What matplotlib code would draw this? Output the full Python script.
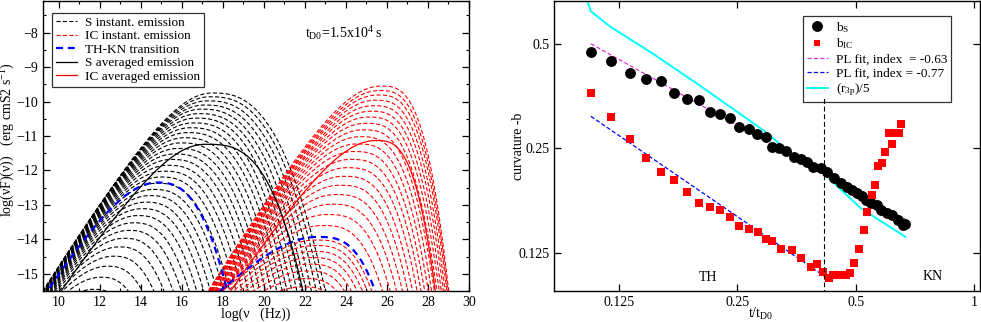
import numpy as np
import matplotlib
matplotlib.use("Agg")
import matplotlib.pyplot as plt
from matplotlib.lines import Line2D

plt.rcParams['font.family'] = ['Liberation Serif', 'DejaVu Serif']
plt.rcParams['mathtext.fontset'] = 'custom'
plt.rcParams['mathtext.rm'] = 'Liberation Serif'
plt.rcParams['mathtext.it'] = 'Liberation Serif:italic'
plt.rcParams['lines.scale_dashes'] = False

# ---- left panel: instantaneous spectra (peak log nu, peak log nuFnu, shape) ----
# synchrotron family, early -> late
s_peak_y = [-16.3, -15.85, -15.45, -15.1, -14.78, -14.49, -14.22, -13.97, -13.74, -13.52,
            -13.31, -13.11, -12.92, -12.73, -12.55, -12.37, -12.19, -12.02, -11.85, -11.68,
            -11.52, -11.36, -11.2, -11.05, -10.9, -10.76, -10.62, -10.48, -10.35, -10.22,
            -10.1, -9.98, -9.86, -9.75]
s_peak_x = [10.85, 11.3, 11.7, 12.05, 12.37, 12.66, 12.93, 13.18, 13.41, 13.63,
            13.84, 14.04, 14.23, 14.42, 14.6, 14.78, 14.96, 15.13, 15.3, 15.47,
            15.63, 15.79, 15.95, 16.1, 16.25, 16.39, 16.53, 16.67, 16.8, 16.93,
            17.08, 17.22, 17.36, 17.48]
s_right_b = [0.22, 0.21, 0.2, 0.19, 0.182, 0.174, 0.166, 0.159, 0.152, 0.146,
             0.14, 0.135, 0.13, 0.125, 0.12, 0.116, 0.112, 0.108, 0.104, 0.1,
             0.097, 0.094, 0.091, 0.088, 0.085, 0.083, 0.081, 0.079, 0.077, 0.075,
             0.073, 0.071, 0.069, 0.068]

# inverse Compton family, early -> late
ic_peak_y = [-17.3, -16.9, -16.55, -16.22, -15.92, -15.64, -15.38, -15.14, -14.92, -14.72,
             -14.53, -14.35, -14.18, -14.02, -13.6, -13.28, -12.98, -12.7, -12.43, -12.17,
             -11.92, -11.68, -11.45, -11.23, -11.02, -10.82, -10.63, -10.45, -10.28, -10.12,
             -9.96, -9.81, -9.68, -9.55]
ic_peak_x = [20.9, 21.1, 21.3, 21.45, 21.6, 21.75, 21.88, 22.0, 22.1, 22.2,
             22.3, 22.39, 22.47, 22.55, 22.83, 23.06, 23.27, 23.47, 23.67, 23.85,
             24.03, 24.2, 24.36, 24.52, 24.67, 24.81, 24.94, 25.07, 25.19, 25.31,
             25.42, 25.53, 25.62, 25.71]
ic_left_s = [0.55, 0.55, 0.56, 0.56, 0.57, 0.57, 0.58, 0.58, 0.59, 0.59,
             0.6, 0.6, 0.6, 0.6, 0.7, 0.76, 0.81, 0.85, 0.88, 0.9,
             0.92, 0.93, 0.94, 0.95, 0.96, 0.97, 0.97, 0.98, 0.98, 0.99,
             0.99, 1.0, 1.0, 1.0]
ic_right_b = [0.16, 0.15, 0.14, 0.13, 0.122, 0.114, 0.107, 0.1, 0.095, 0.09,
              0.086, 0.082, 0.078, 0.075, 0.074, 0.075, 0.077, 0.079, 0.082, 0.085,
              0.088, 0.092, 0.096, 0.1, 0.104, 0.109, 0.114, 0.12, 0.126, 0.132,
              0.139, 0.146, 0.155, 0.166]

# TH-KN transition spectra and averaged spectra: (peak x, peak y, left slope, right curvature)
thkn_s = (14.8, -12.35, 1.0, 0.13)
thkn_ic = (22.6, -13.93, 0.6, 0.07)
avg_s = (17.12, -11.24, 0.92, 0.039)
avg_ic = (25.46, -11.13, 0.93, 0.18)

# ---- right panel: curvature vs time ----
t_s = [0.106, 0.119, 0.133, 0.146, 0.160, 0.173, 0.186, 0.200, 0.213, 0.226,
       0.240, 0.253, 0.267, 0.281, 0.296, 0.307, 0.320, 0.333, 0.348, 0.363,
       0.377, 0.390, 0.408, 0.423, 0.440, 0.458, 0.474, 0.490, 0.503, 0.520,
       0.530, 0.546, 0.568, 0.579, 0.600, 0.620, 0.639, 0.658, 0.669]
b_s = [0.474, 0.447, 0.411, 0.397, 0.390, 0.361, 0.346, 0.344, 0.318, 0.314,
       0.306, 0.287, 0.285, 0.274, 0.269, 0.252, 0.250, 0.246, 0.236, 0.233,
       0.228, 0.221, 0.219, 0.214, 0.205, 0.199, 0.193, 0.189, 0.186, 0.182,
       0.177, 0.174, 0.172, 0.166, 0.163, 0.161, 0.155, 0.150, 0.151]
t_ic = [0.106, 0.119, 0.133, 0.146, 0.160, 0.173, 0.186, 0.200, 0.213, 0.226,
        0.240, 0.253, 0.267, 0.282, 0.296, 0.307, 0.322, 0.344, 0.362, 0.384,
        0.399, 0.413, 0.428, 0.439, 0.458, 0.472, 0.484, 0.496, 0.510, 0.524,
        0.534, 0.549, 0.559, 0.569, 0.585, 0.595, 0.609, 0.619, 0.630, 0.644, 0.653]
b_ic = [0.361, 0.307, 0.266, 0.235, 0.213, 0.202, 0.187, 0.174, 0.169, 0.166,
        0.158, 0.149, 0.146, 0.143, 0.137, 0.135, 0.128, 0.127, 0.121, 0.114,
        0.116, 0.110, 0.106, 0.108, 0.108, 0.108, 0.109, 0.117, 0.128, 0.145,
        0.164, 0.183, 0.196, 0.222, 0.226, 0.244, 0.276, 0.258, 0.276, 0.276, 0.293]
fit_s_t, fit_s_b = [0.106, 0.67], [0.5, 0.156]
fit_ic_t, fit_ic_b = [0.106, 0.432], [0.309, 0.104]
r3p_t = [0.1035, 0.106, 0.119, 0.153, 0.2, 0.3, 0.333, 0.416, 0.515, 0.669]
r3p_b = [0.67, 0.62, 0.559, 0.467, 0.38, 0.275, 0.247, 0.211, 0.168, 0.139]
t_trans = 0.415


def spectrum(x, xp, yp, s, b, p, w=3.0):
    u = x - xp
    left = yp - s * (np.sqrt(u ** 2 + w ** 2) - w)
    right = yp - b * np.abs(u) ** p
    return np.where(u < 0, left, right)


fig = plt.figure(figsize=(9.81, 3.22), dpi=100)
ax1 = fig.add_axes([43 / 981, 31 / 322, 426 / 981, 290 / 322])
ax2 = fig.add_axes([554 / 981, 31 / 322, 426 / 981, 290 / 322])

x = np.linspace(8, 31, 1200)
dash = (0, (3.0, 1.6))
for xp, yp, b in zip(s_peak_x, s_peak_y, s_right_b):
    ax1.plot(x, spectrum(x, xp, yp, 1.0, b, 2.6), color='black', lw=0.8, ls=dash)
for xp, yp, s, b in zip(ic_peak_x, ic_peak_y, ic_left_s, ic_right_b):
    ax1.plot(x, spectrum(x, xp, yp, s, b, 3.0), color='red', lw=0.8, ls=dash)
ax1.plot(x, spectrum(x, *thkn_s[:3], thkn_s[3], 2.6), color='blue', lw=1.6, ls=(0, (5, 3.5)))
ax1.plot(x, spectrum(x, *thkn_ic[:3], thkn_ic[3], 3.0), color='blue', lw=1.6, ls=(0, (5, 3.5)))
ax1.plot(x, spectrum(x, *avg_s[:3], avg_s[3], 3.0), color='black', lw=0.9)
ax1.plot(x, spectrum(x, *avg_ic[:3], avg_ic[3], 3.0), color='red', lw=0.9)

ax1.set_xlim(9.22, 30)
ax1.set_ylim(-15.5, -7.08)
ax1.set_xticks(np.arange(10, 31, 2))
ax1.set_xticks(np.arange(10, 31, 1), minor=True)
ax1.set_yticks(np.arange(-15, -7, 1))
ax1.set_yticks(np.arange(-15.5, -7, 0.5), minor=True)
ax1.set_xlabel('log(ν   (Hz))', fontsize=10)
ax1.set_ylabel('log(νF)(ν))   (erg cmS2 s$^{-1}$)', fontsize=10)
ax1.xaxis.set_label_coords(0.5, -0.058)
ax1.yaxis.set_label_coords(-0.062, 0.52)
ax1.text(22.0, -8.0, r'$\mathrm{t_{D0}}$=1.5x10$^{4}$ s', fontsize=10, va='center')

handles1 = [Line2D([], [], color='black', lw=0.8, ls=dash),
            Line2D([], [], color='red', lw=0.8, ls=dash),
            Line2D([], [], color='blue', lw=1.6, ls=(0, (5, 3.5))),
            Line2D([], [], color='black', lw=0.9),
            Line2D([], [], color='red', lw=0.9)]
labels1 = ['S instant. emission', 'IC instant. emission', 'TH-KN transition',
           'S averaged emission', 'IC averaged emission']
leg1 = ax1.legend(handles1, labels1, loc='upper left', bbox_to_anchor=(0.021, 0.96),
                  borderaxespad=0, fontsize=9.5, fancybox=False, framealpha=1,
                  edgecolor='#333333', handlelength=1.6, handletextpad=0.6,
                  labelspacing=0.1, borderpad=0.3)
leg1.get_frame().set_linewidth(0.9)

# right panel
ax2.set_xscale('log')
ax2.set_yscale('log')
ax2.plot(r3p_t, r3p_b, color='cyan', lw=1.4, zorder=2)
ax2.plot(fit_s_t, fit_s_b, color='#e030e0', lw=0.9, ls=(0, (3, 1.6)), zorder=3)
ax2.plot(fit_ic_t, fit_ic_b, color='blue', lw=0.9, ls=(0, (3, 1.6)), zorder=3)
ax2.plot(t_s, b_s, 'o', color='black', ms=6.8, zorder=4)
ax2.plot(t_ic, b_ic, 's', color='red', ms=5.2, mew=0, zorder=4)
ax2.plot([t_trans, t_trans], [0.09, 0.35], color='black', lw=0.8, ls=(0, (3.5, 2)), zorder=6)
ax2.text(0.21, 0.106, 'TH', fontsize=10, ha='center', va='center')
ax2.text(0.785, 0.107, 'KN', fontsize=10, ha='center', va='center')

ax2.set_xlim(0.0854, 1.036)
ax2.set_ylim(0.097, 0.664)
ax2.set_xticks([0.125, 0.25, 0.5, 1])
ax2.set_xticklabels(['0.125', '0.25', '0.5', '1'])
ax2.set_yticks([0.125, 0.25, 0.5])
ax2.set_yticklabels(['0.125', '0.25', '0.5'])
ax2.minorticks_off()
ax2.set_xlabel(r'$\mathrm{t/t_{D0}}$', fontsize=10)
ax2.set_ylabel('curvature -b', fontsize=10)
ax2.xaxis.set_label_coords(0.484, -0.052)
ax2.yaxis.set_label_coords(-0.069, 0.5)

handles2 = [Line2D([], [], marker='o', color='black', ls='none', ms=6.8),
            Line2D([], [], marker='s', color='red', ls='none', ms=5, mew=0),
            Line2D([], [], color='#e030e0', lw=0.9, ls=(0, (3, 1.6))),
            Line2D([], [], color='blue', lw=0.9, ls=(0, (3, 1.6))),
            Line2D([], [], color='cyan', lw=1.4)]
labels2 = [r'$\mathrm{b_S}$', r'$\mathrm{b_{IC}}$', 'PL fit, index  = -0.63',
           'PL fit, index = -0.77', r'$\mathrm{(r_{3p})/5}$']
leg2 = ax2.legend(handles2, labels2, loc='upper left', bbox_to_anchor=(0.584, 0.948),
                  borderaxespad=0, fontsize=9.5, fancybox=False, framealpha=1,
                  edgecolor='#333333', handlelength=1.6, handletextpad=0.6,
                  labelspacing=0.14, borderpad=0.3)
leg2.get_frame().set_linewidth(0.9)

for ax in (ax1, ax2):
    ax.tick_params(which='both', direction='in', top=True, right=True, labelsize=10)
    ax.tick_params(which='major', length=5, width=0.9)
    ax.tick_params(which='minor', length=2.5, width=0.8)
    for sp in ax.spines.values():
        sp.set_linewidth(1.0)

fig.savefig('out.png', dpi=100)
